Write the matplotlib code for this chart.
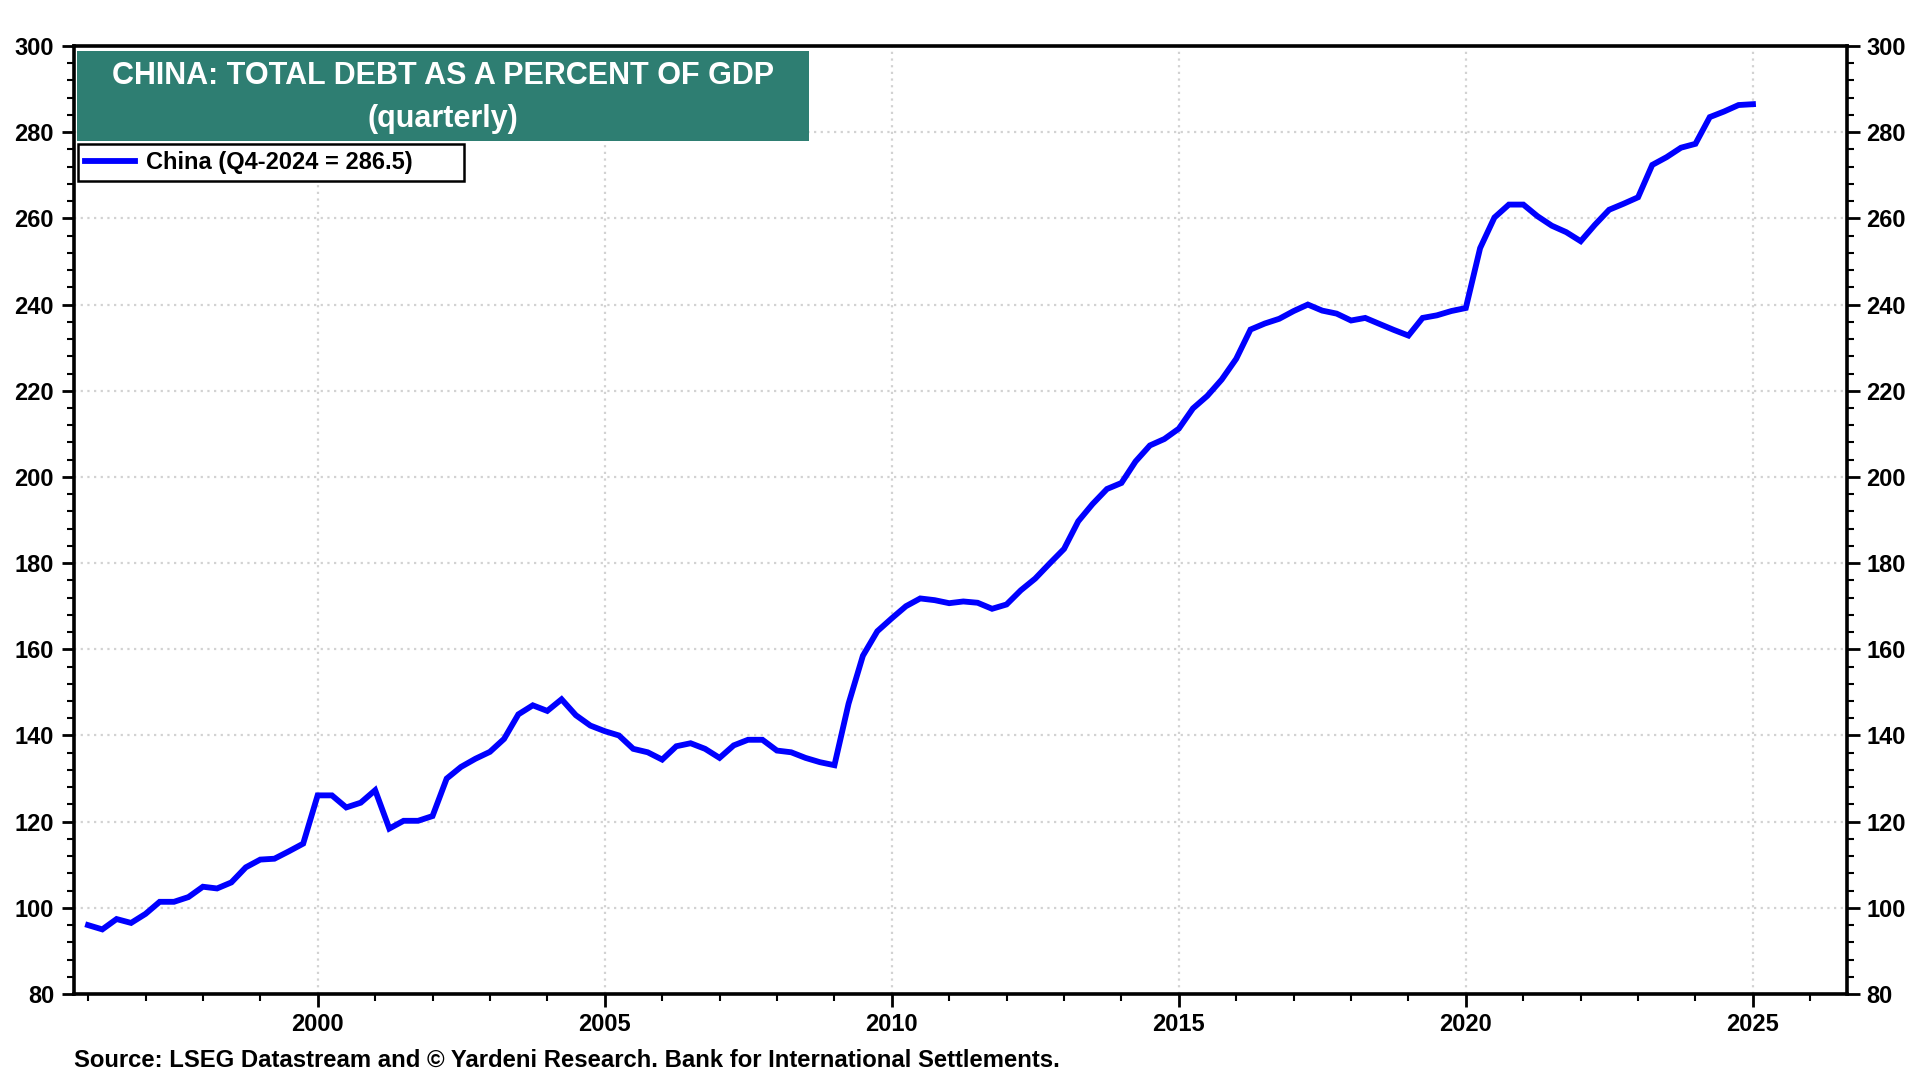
import matplotlib
matplotlib.use("Agg")
import matplotlib.pyplot as plt
import matplotlib.dates as mdates
from matplotlib.patches import Rectangle
from matplotlib.ticker import MultipleLocator
import pandas as pd

plt.rcParams["font.family"] = ["Liberation Sans", "DejaVu Sans"]
plt.rcParams["font.weight"] = "bold"

# ---------------------------------------------------------------------------
# Data: China total debt as % of GDP, quarterly, Q4-1995 .. Q4-2024
# ---------------------------------------------------------------------------
first_quarter = "1995Q4"
last_quarter = "2024Q4"

debt_pct_gdp = [
    96.0,                                   # 1995 Q4
    95.0, 97.4, 96.5, 98.6,                 # 1996
    101.4, 101.4, 102.5, 104.9,             # 1997
    104.5, 105.9, 109.4, 111.2,             # 1998
    111.4, 113.1, 114.9, 126.1,             # 1999
    126.1, 123.3, 124.4, 127.3,             # 2000
    118.4, 120.2, 120.2, 121.3,             # 2001
    130.0, 132.7, 134.6, 136.2,             # 2002
    139.2, 144.9, 147.0, 145.7,             # 2003
    148.4, 144.7, 142.3, 141.0,             # 2004
    140.0, 136.9, 136.1, 134.4,             # 2005
    137.5, 138.2, 136.9, 134.8,             # 2006
    137.7, 139.0, 139.0, 136.5,             # 2007
    136.1, 134.8, 133.8, 133.1,             # 2008
    147.4, 158.5, 164.2, 167.2,             # 2009
    170.0, 171.8, 171.4, 170.7,             # 2010
    171.1, 170.8, 169.4, 170.4,             # 2011
    173.7, 176.4, 179.9, 183.3,             # 2012
    189.7, 193.7, 197.2, 198.6,             # 2013
    203.6, 207.3, 208.8, 211.2,             # 2014
    215.9, 218.8, 222.6, 227.4,             # 2015
    234.2, 235.6, 236.7, 238.5,             # 2016
    240.0, 238.6, 237.9, 236.3,             # 2017
    236.9, 235.5, 234.1, 232.8,             # 2018
    236.9, 237.5, 238.5, 239.2,             # 2019
    253.1, 260.2, 263.2, 263.2,             # 2020
    260.5, 258.3, 256.8, 254.7,             # 2021
    258.5, 262.0, 263.4, 264.9,             # 2022
    272.4, 274.2, 276.4, 277.3,             # 2023
    283.5, 284.8, 286.3, 286.5,             # 2024
]

title_lines = ["CHINA: TOTAL DEBT AS A PERCENT OF GDP", "(quarterly)"]
legend_label = "China (Q4-2024 = 286.5)"
source_text = ("Source: LSEG Datastream and \u00a9 Yardeni Research. "
               "Bank for International Settlements.")

# quarter-end dates
dates = pd.period_range(first_quarter, last_quarter, freq="Q").to_timestamp(how="end")

# ---------------------------------------------------------------------------
# Figure
# ---------------------------------------------------------------------------
fig = plt.figure(figsize=(19.2, 10.8), dpi=100)
ax = fig.add_axes([0.0383, 0.0796, 0.9235, 0.8778])

ax.plot(dates, debt_pct_gdp, color="#0000ff", lw=4.2, label=legend_label,
        solid_joinstyle="miter", zorder=3)

ax.set_ylim(80, 300)
ax.set_xlim(pd.Timestamp("1995-10-01"), pd.Timestamp("2026-08-20"))

ax.yaxis.set_major_locator(MultipleLocator(20))
ax.yaxis.set_minor_locator(MultipleLocator(4))
ax.xaxis.set_major_locator(mdates.YearLocator(5))
ax.xaxis.set_minor_locator(mdates.YearLocator(1))
ax.xaxis.set_major_formatter(mdates.DateFormatter("%Y"))

ax.grid(True, which="major", color="#d2d2d2", linestyle=(0, (1, 2)), lw=1.6, zorder=0)

ax.tick_params(axis="both", which="major", direction="out", length=9, width=2,
               labelsize=17, pad=5, colors="black")
ax.tick_params(axis="both", which="minor", direction="out", length=5, width=1.5)
ax.tick_params(axis="y", which="both", left=True, right=True,
               labelleft=True, labelright=True)
for lbl in ax.get_xticklabels() + ax.get_yticklabels():
    lbl.set_fontweight("bold")
for t in ax.yaxis.get_major_ticks():
    t.label2.set_fontweight("bold")

for sp in ax.spines.values():
    sp.set_linewidth(2.6)
    sp.set_color("black")

# title box
ax.add_patch(Rectangle((0.002, 0.8998), 0.413, 0.0949, transform=ax.transAxes,
                       facecolor="#2e7e72", edgecolor="none", zorder=4))
ax.text(0.2085, 0.9680, title_lines[0], transform=ax.transAxes, ha="center",
        va="center", color="white", fontsize=22, fontweight="bold", zorder=5)
ax.text(0.2085, 0.9225, title_lines[1], transform=ax.transAxes, ha="center",
        va="center", color="white", fontsize=22, fontweight="bold", zorder=5)

leg = ax.legend(loc="upper left", bbox_to_anchor=(0.0025, 0.8565, 0.2177, 0.0401),
                mode="expand", borderaxespad=0, fancybox=False, framealpha=1,
                edgecolor="black", handlelength=2.1,
                handletextpad=0.5, borderpad=0.3, prop={"weight": "bold", "size": 17})
leg.get_frame().set_linewidth(1.8)
leg.set_zorder(5)

fig.text(0.0385, 0.0185, source_text, ha="left", va="center", fontsize=17.2,
         fontweight="bold", color="black")

fig.savefig("out.png", dpi=100, facecolor="white")
